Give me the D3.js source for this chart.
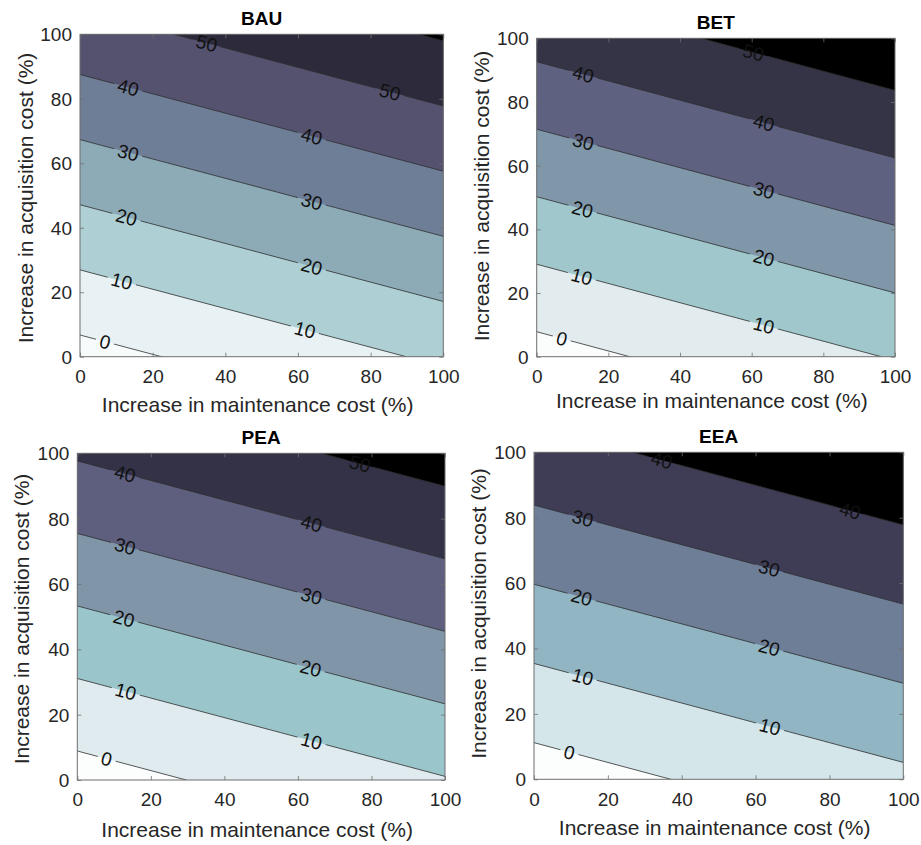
<!DOCTYPE html>
<html>
<head>
<meta charset="utf-8">
<script src="https://cdn.jsdelivr.net/npm/d3@7"></script>
<style>
  html, body { margin: 0; padding: 0; background: #ffffff; }
  svg { display: block; font-family: "Liberation Sans", Arial, sans-serif; }
</style>
</head>
<body>
<svg id="chart" width="921" height="845"></svg>
<script>
// ---- data -------------------------------------------------------------
// Sample positions of each surface (percent increase in cost)
const maintenanceSteps = [0, 100];
const acquisitionSteps = [0, 100];
// Cost change (%) at the sample points, row-major: acquisition 0 row, then acquisition 100 row
const bauValues = [-3.33, 11.52, 46.17, 61.02];
const betValues = [-3.70, 10.55, 43.47, 57.72];
const peaValues = [-4.00, 9.50, 41.05, 54.55];
const eeaValues = [-4.63, 7.87, 36.67, 49.17];
const contourLevels = [0, 10, 20, 30, 40, 50, 60];
const tickValues = [0, 20, 40, 60, 80, 100];
const scenarioNames = ["BAU", "BET", "PEA", "EEA"];
const xAxisTitle = "Increase in maintenance cost (%)";
const yAxisTitle = "Increase in acquisition cost (%)";

// ---- layout & styling -------------------------------------------------
// box = [left, top, right, bottom] of each plotting area in pixels
// labelAt = [level, maintenance position] where each contour label sits
const panelLayout = [
  { values: bauValues, box: [80, 34.3, 443.3, 356.7], xTitleY: 412, yTitle: [25, 198],
    fills: ["#f8fbfc", "#e8f2f4", "#aed0d4", "#8cabb7", "#6e7e96", "#555270", "#2d2b3b", "#000000"],
    labelAt: [[0, 6.9], [10, 11.5], [20, 12.8], [30, 13.3], [40, 13.3], [50, 34.9],
              [10, 61.9], [20, 63.8], [30, 63.8], [40, 63.8], [50, 85.3]] },
  { values: betValues, box: [536.7, 38.3, 895, 356.7], xTitleY: 408, yTitle: [481.7, 196],
    fills: ["#fbfdfd", "#e2ecee", "#a0c8cc", "#7f97a8", "#5f6180", "#343446", "#000000", "#000000"],
    labelAt: [[0, 7.0], [10, 12.6], [20, 12.8], [30, 13.0], [40, 13.0], [50, 60.5],
              [10, 63.4], [20, 63.4], [30, 63.4], [40, 63.4]] },
  { values: peaValues, box: [77.3, 453.3, 445, 780], xTitleY: 837, yTitle: [21.7, 619],
    fills: ["#fcfdfd", "#dfebee", "#9ac5ca", "#8096a8", "#5e5f7f", "#333246", "#000000", "#000000"],
    labelAt: [[0, 8.0], [10, 13.2], [20, 12.7], [30, 13.0], [40, 13.0], [50, 76.9],
              [10, 63.7], [20, 63.5], [30, 63.7], [40, 63.7]] },
  { values: eeaValues, box: [534, 452.3, 903.3, 779.3], xTitleY: 835, yTitle: [478.3, 613.5],
    fills: ["#fcfdfd", "#d4e6ea", "#91b5c2", "#6e7e96", "#3f3c56", "#000000", "#000000", "#000000"],
    labelAt: [[0, 9.6], [10, 13.2], [20, 12.9], [30, 13.2], [40, 34.6],
              [10, 63.9], [20, 63.7], [30, 63.7], [40, 85.6]] }
];

const tickFont = 19, titleFont = 19, axisTitleFont = 21, labelFont = 19;
const textColor = "#262626", boxColor = "#6e6e6e", lineColor = "#2e2e2e";

// ---- drawing ----------------------------------------------------------
const svg = d3.select("#chart");
const defs = svg.append("defs");
const nx = maintenanceSteps.length, ny = acquisitionSteps.length;
const xDomain = d3.extent(maintenanceSteps), yDomain = d3.extent(acquisitionSteps);

// Surface value at (m, a) by bilinear interpolation between sample points
function surfaceAt(values, m, a) {
  const i = Math.max(0, Math.min(nx - 2, d3.bisectRight(maintenanceSteps, m) - 1));
  const j = Math.max(0, Math.min(ny - 2, d3.bisectRight(acquisitionSteps, a) - 1));
  const u = (m - maintenanceSteps[i]) / (maintenanceSteps[i + 1] - maintenanceSteps[i]);
  const v = (a - acquisitionSteps[j]) / (acquisitionSteps[j + 1] - acquisitionSteps[j]);
  const z00 = values[j * nx + i], z10 = values[j * nx + i + 1];
  const z01 = values[(j + 1) * nx + i], z11 = values[(j + 1) * nx + i + 1];
  return (1 - v) * ((1 - u) * z00 + u * z10) + v * ((1 - u) * z01 + u * z11);
}

// Acquisition position where the level is reached at maintenance m
function levelCrossing(values, m, level) {
  let lo = yDomain[0], hi = yDomain[1];
  for (let k = 0; k < 60; k++) {
    const mid = (lo + hi) / 2;
    if (surfaceAt(values, m, mid) < level) lo = mid; else hi = mid;
  }
  return (lo + hi) / 2;
}

panelLayout.forEach((p, pi) => {
  const [L, T, R, B] = p.box;
  const x = d3.scaleLinear().domain(xDomain).range([L, R]);
  const y = d3.scaleLinear().domain(yDomain).range([B, T]);
  // grid coordinates of d3.contours -> data coordinates
  const gx = d3.scaleLinear().domain([0.5, nx - 0.5]).range(xDomain);
  const gy = d3.scaleLinear().domain([0.5, ny - 0.5]).range(yDomain);
  const path = d3.geoPath(d3.geoTransform({
    point(a, b) { this.stream.point(x(gx(a)), y(gy(b))); }
  }));
  const bands = d3.contours().size([nx, ny]).smooth(true).thresholds(contourLevels)(p.values);

  const clipId = "plot-clip-" + pi, maskId = "label-gap-" + pi;
  defs.append("clipPath").attr("id", clipId)
    .append("rect").attr("x", L).attr("y", T).attr("width", R - L).attr("height", B - T);
  const mask = defs.append("mask").attr("id", maskId).attr("maskUnits", "userSpaceOnUse")
    .attr("x", 0).attr("y", 0).attr("width", 921).attr("height", 845);
  mask.append("rect").attr("x", 0).attr("y", 0).attr("width", 921).attr("height", 845).attr("fill", "#fff");

  const g = svg.append("g").attr("class", "panel");
  const plot = g.append("g").attr("clip-path", `url(#${clipId})`);

  // filled bands, lowest first
  plot.append("rect").attr("x", L).attr("y", T).attr("width", R - L).attr("height", B - T)
    .attr("fill", p.fills[0]);
  plot.append("g").selectAll("path").data(bands).join("path")
    .attr("d", path).attr("fill", (d, i) => p.fills[i + 1]).attr("stroke", "none");

  // contour lines with gaps under the labels
  plot.append("g").attr("mask", `url(#${maskId})`)
    .selectAll("path").data(bands).join("path")
    .attr("d", path).attr("fill", "none").attr("stroke", lineColor).attr("stroke-width", 0.8);

  // contour labels, rotated along their line
  const labels = g.append("g");
  p.labelAt.forEach(([level, m]) => {
    const a = levelCrossing(p.values, m, level);
    const m2 = m + 1, a2 = levelCrossing(p.values, m2, level);
    const angle = Math.atan2(y(a2) - y(a), x(m2) - x(m)) * 180 / Math.PI;
    const px = x(m), py = y(a);
    const t = labels.append("text")
      .attr("transform", `translate(${px},${py}) rotate(${angle})`)
      .attr("text-anchor", "middle").attr("dy", "0.36em")
      .attr("font-size", labelFont).attr("fill", "#111")
      .text(d3.format("d")(level));
    const w = t.node().getComputedTextLength();
    mask.append("rect")
      .attr("x", -w / 2 - 4).attr("y", -9).attr("width", w + 8).attr("height", 18)
      .attr("transform", `translate(${px},${py}) rotate(${angle})`)
      .attr("fill", "#000");
  });

  // axes: labelled bottom/left, tick-only top/right, all ticks pointing inward
  const styleAxis = sel => {
    sel.select(".domain").remove();
    sel.selectAll(".tick line").attr("stroke", boxColor).attr("stroke-width", 0.8);
    sel.selectAll(".tick text").attr("fill", textColor).attr("font-size", tickFont)
      .attr("font-family", "Liberation Sans, Arial, sans-serif");
  };
  g.append("g").attr("transform", `translate(0,${B})`)
    .call(d3.axisBottom(x).tickValues(tickValues).tickSize(-4).tickPadding(13)).call(styleAxis);
  g.append("g").attr("transform", `translate(${L},0)`)
    .call(d3.axisLeft(y).tickValues(tickValues).tickSize(-4).tickPadding(8)).call(styleAxis);
  g.append("g").attr("transform", `translate(0,${T})`)
    .call(d3.axisTop(x).tickValues(tickValues).tickSize(-4).tickFormat("")).call(styleAxis);
  g.append("g").attr("transform", `translate(${R},0)`)
    .call(d3.axisRight(y).tickValues(tickValues).tickSize(-4).tickFormat("")).call(styleAxis);
  g.selectAll(".tick text").attr("dy", function () {
    return d3.select(this.parentNode.parentNode).attr("transform").startsWith("translate(0") ? "0.71em" : "0.34em";
  });

  g.append("rect").attr("x", L).attr("y", T).attr("width", R - L).attr("height", B - T)
    .attr("fill", "none").attr("stroke", boxColor).attr("stroke-width", 1);

  // titles
  g.append("text").attr("x", (L + R) / 2).attr("y", T - 9)
    .attr("text-anchor", "middle").attr("font-size", titleFont).attr("font-weight", "bold")
    .attr("fill", "#000").text(scenarioNames[pi]);
  g.append("text").attr("x", (L + R) / 2 - 4).attr("y", p.xTitleY)
    .attr("text-anchor", "middle").attr("font-size", axisTitleFont).attr("fill", textColor)
    .text(xAxisTitle);
  g.append("text")
    .attr("transform", `translate(${p.yTitle[0]},${p.yTitle[1]}) rotate(-90)`)
    .attr("text-anchor", "middle").attr("dy", "0.36em")
    .attr("font-size", axisTitleFont).attr("fill", textColor)
    .text(yAxisTitle);
});
</script>
</body>
</html>
